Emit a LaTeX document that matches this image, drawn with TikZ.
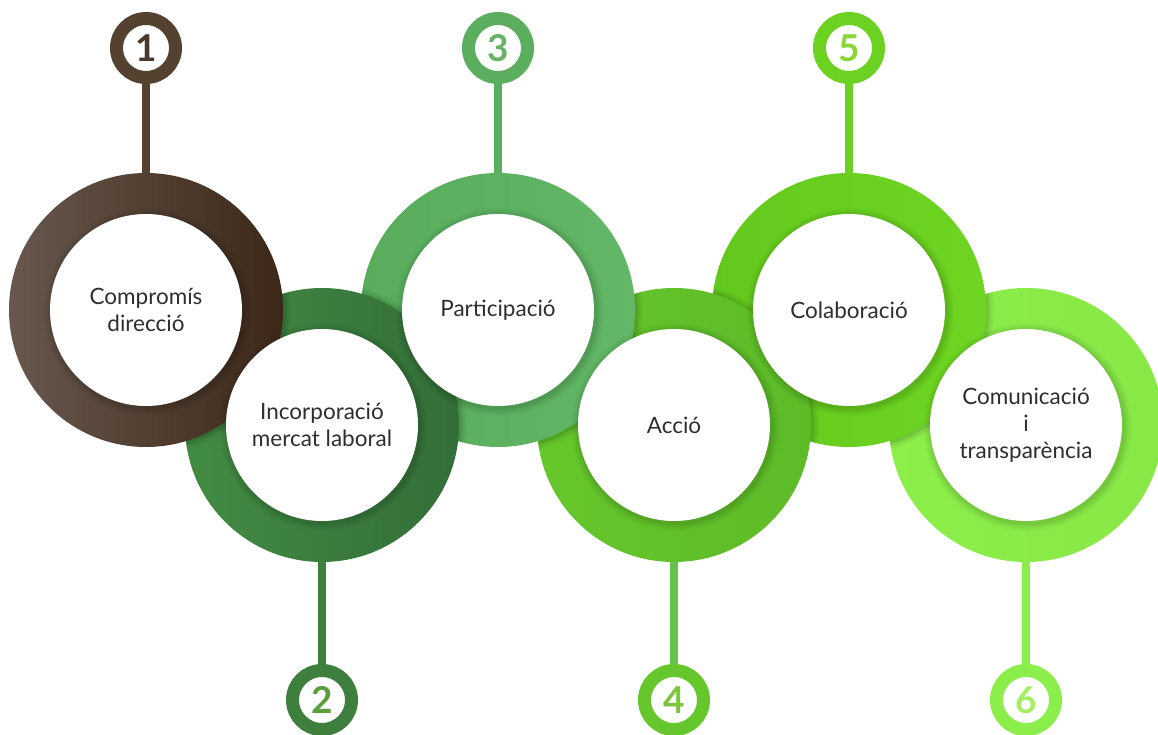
\documentclass[tikz,border=0pt]{standalone}
\usepackage{fontspec}
\setmainfont{Lato}
\usetikzlibrary{calc}
\definecolor{txt}{HTML}{2E2E2E}
\definecolor{aL}{HTML}{67574D}\definecolor{aR}{HTML}{3D2818}\definecolor{aS}{HTML}{54412F}\definecolor{aD}{HTML}{4A3A2E}
\definecolor{bL}{HTML}{438C43}\definecolor{bR}{HTML}{336E38}\definecolor{bS}{HTML}{3E7F3E}\definecolor{bD}{HTML}{5A9F3C}
\definecolor{cL}{HTML}{58AC5C}\definecolor{cR}{HTML}{62B866}\definecolor{cS}{HTML}{5AAE5E}\definecolor{cD}{HTML}{68B268}
\definecolor{dL}{HTML}{66C72C}\definecolor{dR}{HTML}{5DBB27}\definecolor{dS}{HTML}{66C24A}\definecolor{dD}{HTML}{7EC53E}
\definecolor{eL}{HTML}{63C81D}\definecolor{eR}{HTML}{6ED622}\definecolor{eS}{HTML}{6BD221}\definecolor{eD}{HTML}{8AD738}
\definecolor{fL}{HTML}{8CEF4A}\definecolor{fR}{HTML}{88E846}\definecolor{fS}{HTML}{8CEE4A}\definecolor{fD}{HTML}{A6EF62}
\begin{document}
\begin{tikzpicture}[x=1pt,y=-1pt,
  ring/.style={circle, draw=none, minimum size=274pt, inner sep=0pt},
  hole/.style={circle, fill=white, minimum size=192pt, inner sep=0pt, align=center,
    font=\fontsize{22.5}{27}\selectfont, text=txt},
  numc/.style={circle, fill=white, draw=#1, line width=13pt, minimum size=59pt, inner sep=0pt,
    font=\fontsize{37}{37}\selectfont\bfseries},
  stem/.style={draw=#1, line width=8pt},
  sh/.style={fill=black, opacity=#1}]
\useasboundingbox (0,0) rectangle (1158,735);
\fill[white] (0,0) rectangle (1158,735);

\coordinate (c1) at (146,310);
\coordinate (c2) at (322,425);
\coordinate (c3) at (498,310);
\coordinate (c4) at (674,425);
\coordinate (c5) at (849,310);
\coordinate (c6) at (1026,425);

% number circles
\node[numc=aS, text=aD] (n1) at (146,48) {1};
\node[numc=bS, text=bD] (n2) at (322,700) {2};
\node[numc=cS, text=cD] (n3) at (498,48) {3};
\node[numc=dL, text=dD] (n4) at (674,700) {4};
\node[numc=eS, text=eD] (n5) at (849,48) {5};
\node[numc=fS, text=fD] (n6) at (1026,700) {6};

% outer discs, right to left
\node[ring, left color=fL, right color=fR] (r6) at (c6) {};
\begin{scope}\clip (c6) circle (137);
\foreach \k/\o in {7/0.03,5/0.04,3/0.05,1.5/0.06}{\fill[sh=\o] ($(c5)+(1,1)$) circle (137+\k);}
\end{scope}
\node[ring, left color=eL, right color=eR] (r5) at (c5) {};
\begin{scope}\clip (c5) circle (137);
\foreach \k/\o in {7/0.03,5/0.04,3/0.05,1.5/0.06}{\fill[sh=\o] ($(c4)+(1,1)$) circle (137+\k);}
\end{scope}
\node[ring, left color=dL, right color=dR] (r4) at (c4) {};
\begin{scope}\clip (c4) circle (137);
\foreach \k/\o in {7/0.03,5/0.04,3/0.05,1.5/0.06}{\fill[sh=\o] ($(c3)+(1,1)$) circle (137+\k);}
\end{scope}
\node[ring, left color=cL, right color=cR] (r3) at (c3) {};
\begin{scope}\clip (c3) circle (137);
\foreach \k/\o in {7/0.03,5/0.04,3/0.05,1.5/0.06}{\fill[sh=\o] ($(c2)+(1,1)$) circle (137+\k);}
\end{scope}
\node[ring, left color=bL, right color=bR] (r2) at (c2) {};
\begin{scope}\clip (c2) circle (137);
\foreach \k/\o in {7/0.03,5/0.04,3/0.05,1.5/0.06}{\fill[sh=\o] ($(c1)+(1,1)$) circle (137+\k);}
\end{scope}
\node[ring, left color=aL, right color=aR] (r1) at (c1) {};

% stems
\draw[stem=aS] (n1.south) -- (r1.north);
\draw[stem=bS] (r2.south) -- (n2.north);
\draw[stem=cS] (n3.south) -- (r3.north);
\draw[stem=dS] (r4.south) -- (n4.north);
\draw[stem=eS] (n5.south) -- (r5.north);
\draw[stem=fS] (r6.south) -- (n6.north);

% inner shadows
\foreach \c in {c1,c2,c3,c4,c5,c6}{
  \foreach \k/\o in {8/0.025,6/0.03,4/0.04,2/0.05}{\fill[sh=\o] ($(\c)+(1.5,2)$) circle (96+\k);}
}

% holes with text
\node[hole] (h1) at (c1) {Compromís\\direcció};
\node[hole] (h2) at (c2) {Incorporació\\mercat laboral};
\node[hole] (h3) at (c3) {Participació};
\node[hole] (h4) at (c4) {Acció};
\node[hole] (h5) at (c5) {Colaboració};
\node[hole] (h6) at (c6) {Comunicació\\i\\transparència};
\end{tikzpicture}
\end{document}
